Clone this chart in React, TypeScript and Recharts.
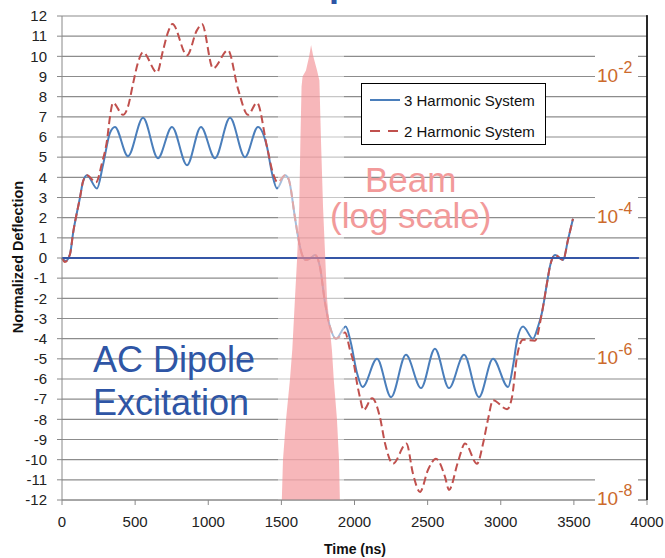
import React from 'react';
import {
  ComposedChart,
  Line,
  Area,
  XAxis,
  YAxis,
  CartesianGrid,
  ReferenceArea,
  ReferenceLine,
  Legend,
} from 'recharts';

// ---------- data ----------
const xTicks = [0, 500, 1000, 1500, 2000, 2500, 3000, 3500, 4000];
const yTicks = [-12, -11, -10, -9, -8, -7, -6, -5, -4, -3, -2, -1, 0, 1, 2, 3, 4, 5, 6, 7, 8, 9, 10, 11, 12];
const logTickPositions = [9, 2, -5, -12];
const logTickExponents = ['-2', '-4', '-6', '-8'];

const seriesNames = ['3 Harmonic System', '2 Harmonic System'];

const harm3Time = [
  0, 25, 55, 75, 123, 144, 171, 239, 280, 328, 362, 451, 554, 656, 752, 855, 950, 1046, 1149, 1251, 1340,
  1402, 1436, 1470, 1525, 1550, 1593, 1614, 1640, 1665, 1700, 1730, 1764, 1798, 1832, 1873, 1940, 1975,
  2017, 2055, 2154, 2250, 2352, 2455, 2550, 2646, 2749, 2851, 2947, 3050, 3085, 3111, 3152, 3220, 3255,
  3282, 3316, 3337, 3371, 3426, 3460, 3494,
];
const harm3Value = [
  0, -0.15, 0.2, 1.2, 3.0, 3.8, 4.1, 3.45, 4.6, 6.2, 6.5, 5.05, 6.95, 4.95, 6.5, 4.6, 6.5, 4.95, 6.95, 5.0, 6.5,
  5.5, 4.2, 3.45, 4.1, 3.9, 2.0, 1.05, 0.2, -0.1, 0.0, 0.15, -0.45, -2.2, -3.4, -4.0, -3.4, -4.2,
  -5.7, -6.4, -5.0, -6.9, -4.8, -6.45, -4.5, -6.45, -4.8, -6.9, -5.0, -6.4, -5.3, -4.1, -3.4, -4.0, -3.4,
  -2.7, -1.25, -0.4, 0.15, -0.1, 0.9, 1.95,
];

const harm2Time = [
  0, 20, 55, 75, 123, 144, 171, 232, 273, 308, 328, 349, 417, 451, 486, 520, 554, 650, 691, 725, 755, 855,
  923, 957, 1033, 1135, 1203, 1272, 1333, 1402, 1443, 1475, 1525, 1550, 1593, 1614, 1640, 1665, 1700, 1730,
  1764, 1798, 1832, 1873, 1935, 1969, 1997, 2017, 2037, 2062, 2120, 2174, 2209, 2263, 2355, 2400, 2448,
  2503, 2557, 2619, 2646, 2708, 2756, 2838, 2879, 2913, 2947, 3043, 3077, 3111, 3152, 3234, 3282, 3316,
  3337, 3371, 3426, 3460, 3494,
];
const harm2Value = [
  0, -0.2, 0.2, 1.2, 3.0, 3.8, 4.1, 3.75, 4.7, 5.85, 7.0, 7.7, 7.1, 7.5, 8.65, 9.7, 10.2, 9.2, 10.3, 11.2, 11.6, 10.05,
  11.3, 11.6, 9.4, 10.3, 8.4, 7.1, 7.7, 5.5, 4.2, 3.75, 4.1, 3.9, 2.0, 1.05, 0.2, -0.1, 0.0, 0.15,
  -0.45, -2.2, -3.4, -4.0, -3.7, -4.55, -5.3, -6.2, -6.9, -7.55, -6.95, -7.9, -9.2, -10.2, -9.2, -10.7, -11.6,
  -10.5, -9.95, -10.85, -11.5, -10.1, -9.2, -10.2, -9.2, -8.0, -7.05, -7.5, -6.9, -4.9, -4.05, -4.1, -2.7, -1.25,
  -0.4, 0.15, -0.1, 0.9, 1.95,
];

// beam profile, drawn against the right-hand (log scale) axis
const beamTime = [
  1503, 1511, 1532, 1559, 1575, 1593, 1607, 1622, 1630, 1638, 1645, 1668, 1690, 1703, 1718, 1744, 1760,
  1771, 1785, 1800, 1812, 1846, 1858, 1880, 1894, 1900,
];
const beamValue = [
  -12, -10, -8, -6, -4.5, -2, -0.1, 2.5, 5.8, 8.5, 9.0, 9.3, 10.0, 10.56, 10.0, 9.3, 8.8,
  5.8, 2.5, 0, -2, -4.6, -6, -8, -10, -12,
];

const zeroLineTime = [0, 3945];
const beamWindowTime = [1477, 1928];
const beamWindowValue = [-12, 10.6];

const harm3Data = harm3Time.map((t, i) => ({ t, v: harm3Value[i] }));
const harm2Data = harm2Time.map((t, i) => ({ t, v: harm2Value[i] }));
const beamData = beamTime.map((t, i) => ({ t, v: beamValue[i] }));

// ---------- layout / styles ----------
const CHART_W = 665;
const CHART_H = 558;
const MARGIN_TOP = 16;
const LEFT_AXIS_W = 62;
const RIGHT_AXIS_W = 18;
const X_AXIS_H = 58;
const PLOT_RIGHT = CHART_W - RIGHT_AXIS_W;
const PLOT_BOTTOM = CHART_H - X_AXIS_H;

const FONT = '"Liberation Sans", Arial, sans-serif';
const BLUE = '#4A7EBB';
const RED = '#C0504D';
const ORANGE = '#CC6A2C';

// right axis: tickSize 6 + tickMargin 2 -> label anchor x = axis x + 8
const LogTick = (props: any) => {
  const { x, y, payload } = props;
  const idx = logTickPositions.indexOf(payload.value);
  const exp = logTickExponents[idx];
  const ax = x - 8;
  return (
    <g>
      <rect x={ax - 52} y={y - 25} width={43} height={33} fill="#ffffff" />
      <text x={ax - 50} y={y + 5} fill={ORANGE} fontSize={19} fontFamily={FONT}>
        10
        <tspan dy={-9} fontSize={16}>
          {exp}
        </tspan>
      </text>
    </g>
  );
};

const LegendBox = () => (
  <div
    style={{
      position: 'relative',
      width: 185,
      height: 62,
      border: '1px solid #000',
      background: '#fff',
      boxSizing: 'border-box',
      fontFamily: FONT,
      fontSize: 15,
      color: '#111',
    }}
  >
    {seriesNames.map((name, i) => (
      <div
        key={name}
        style={{
          position: 'absolute',
          left: 6,
          top: i === 0 ? 7 : 38,
          height: 18,
          display: 'flex',
          alignItems: 'center',
          whiteSpace: 'nowrap',
        }}
      >
        <svg width={34} height={6} style={{ marginRight: 2 }}>
          <line
            x1={2}
            y1={3}
            x2={32}
            y2={3}
            stroke={i === 0 ? BLUE : RED}
            strokeWidth={2}
            strokeDasharray={i === 0 ? undefined : '10 8'}
          />
        </svg>
        <span>{name}</span>
      </div>
    ))}
  </div>
);

export default function App() {
  return (
    <div style={{ position: 'absolute', left: 0, top: 0, width: CHART_W, height: CHART_H, background: '#fff' }}>
      <ComposedChart width={CHART_W} height={CHART_H} margin={{ top: MARGIN_TOP, right: 0, bottom: 0, left: 0 }}>
        <CartesianGrid yAxisId="left" vertical={false} stroke="#8c8c8c" strokeWidth={1.2} />
        <XAxis
          type="number"
          dataKey="t"
          domain={[0, 4000]}
          ticks={xTicks}
          interval={0}
          height={X_AXIS_H}
          tickSize={5}
          tickMargin={11}
          stroke="#888"
          tick={{ fill: '#222', fontSize: 15, fontFamily: FONT }}
        />
        <YAxis
          yAxisId="left"
          type="number"
          domain={[-12, 12]}
          ticks={yTicks}
          interval={0}
          width={LEFT_AXIS_W}
          tickSize={5}
          tickMargin={10}
          stroke="#888"
          tick={{ fill: '#222', fontSize: 15, fontFamily: FONT }}
        />
        <YAxis
          yAxisId="right"
          orientation="right"
          type="number"
          domain={[-12, 12]}
          allowDataOverflow
          ticks={logTickPositions}
          interval={0}
          width={RIGHT_AXIS_W}
          tickLine={false}
          stroke="#111"
          tick={<LogTick />}
        />
        <Line
          yAxisId="left"
          name={seriesNames[0]}
          data={harm3Data}
          dataKey="v"
          type="monotone"
          stroke={BLUE}
          strokeWidth={2}
          dot={false}
          isAnimationActive={false}
        />
        <Line
          yAxisId="left"
          name={seriesNames[1]}
          data={harm2Data}
          dataKey="v"
          type="monotone"
          stroke={RED}
          strokeWidth={2}
          strokeDasharray="8 4"
          dot={false}
          isAnimationActive={false}
        />
        <ReferenceArea
          yAxisId="left"
          x1={beamWindowTime[0]}
          x2={beamWindowTime[1]}
          y1={beamWindowValue[0]}
          y2={beamWindowValue[1]}
          fill="#ffffff"
          fillOpacity={0.5}
          stroke="none"
          zIndex={450}
        />
        <ReferenceLine
          yAxisId="left"
          segment={[
            { x: zeroLineTime[0], y: 0 },
            { x: zeroLineTime[1], y: 0 },
          ]}
          stroke="#3556A6"
          strokeWidth={2}
          zIndex={455}
        />
        <Area
          yAxisId="right"
          data={beamData}
          dataKey="v"
          type="linear"
          baseValue={-12}
          fill="#F28B8F"
          fillOpacity={0.62}
          stroke="none"
          legendType="none"
          isAnimationActive={false}
          zIndex={460}
        />
        <Legend
          layout="vertical"
          align="center"
          verticalAlign="middle"
          wrapperStyle={{ left: 361, top: 83, width: 185, height: 62 }}
          content={<LegendBox />}
        />
      </ComposedChart>
      <svg
        width={CHART_W}
        height={CHART_H}
        style={{ position: 'absolute', left: 0, top: 0, pointerEvents: 'none' }}
      >
        {/* right-hand frame of the plot area */}
        <line x1={PLOT_RIGHT} y1={MARGIN_TOP - 1} x2={PLOT_RIGHT} y2={PLOT_BOTTOM} stroke="#111" strokeWidth={1.6} />
        <text x={329} y={-4} fill="#2E55A5" fontSize={36} fontWeight="bold" fontFamily={FONT}>p</text>
        <text x={365} y={192} fill="#F29A9A" fontSize={35} fontFamily={FONT}>Beam</text>
        <text x={330} y={228} fill="#F29A9A" fontSize={35} fontFamily={FONT}>(log scale)</text>
        <text x={93} y={372} fill="#2E55A5" fontSize={36} fontFamily={FONT}>AC Dipole</text>
        <text x={93} y={415} fill="#2E55A5" fontSize={36} fontFamily={FONT}>Excitation</text>
        <text x={355} y={554} textAnchor="middle" fill="#111" fontSize={14} fontWeight="bold" fontFamily={FONT}>
          Time (ns)
        </text>
        <text
          x={23}
          y={257}
          transform="rotate(-90 23 257)"
          textAnchor="middle"
          fill="#111"
          fontSize={14.5}
          fontWeight="bold"
          fontFamily={FONT}
        >
          Normalized Deflection
        </text>
      </svg>
    </div>
  );
}
